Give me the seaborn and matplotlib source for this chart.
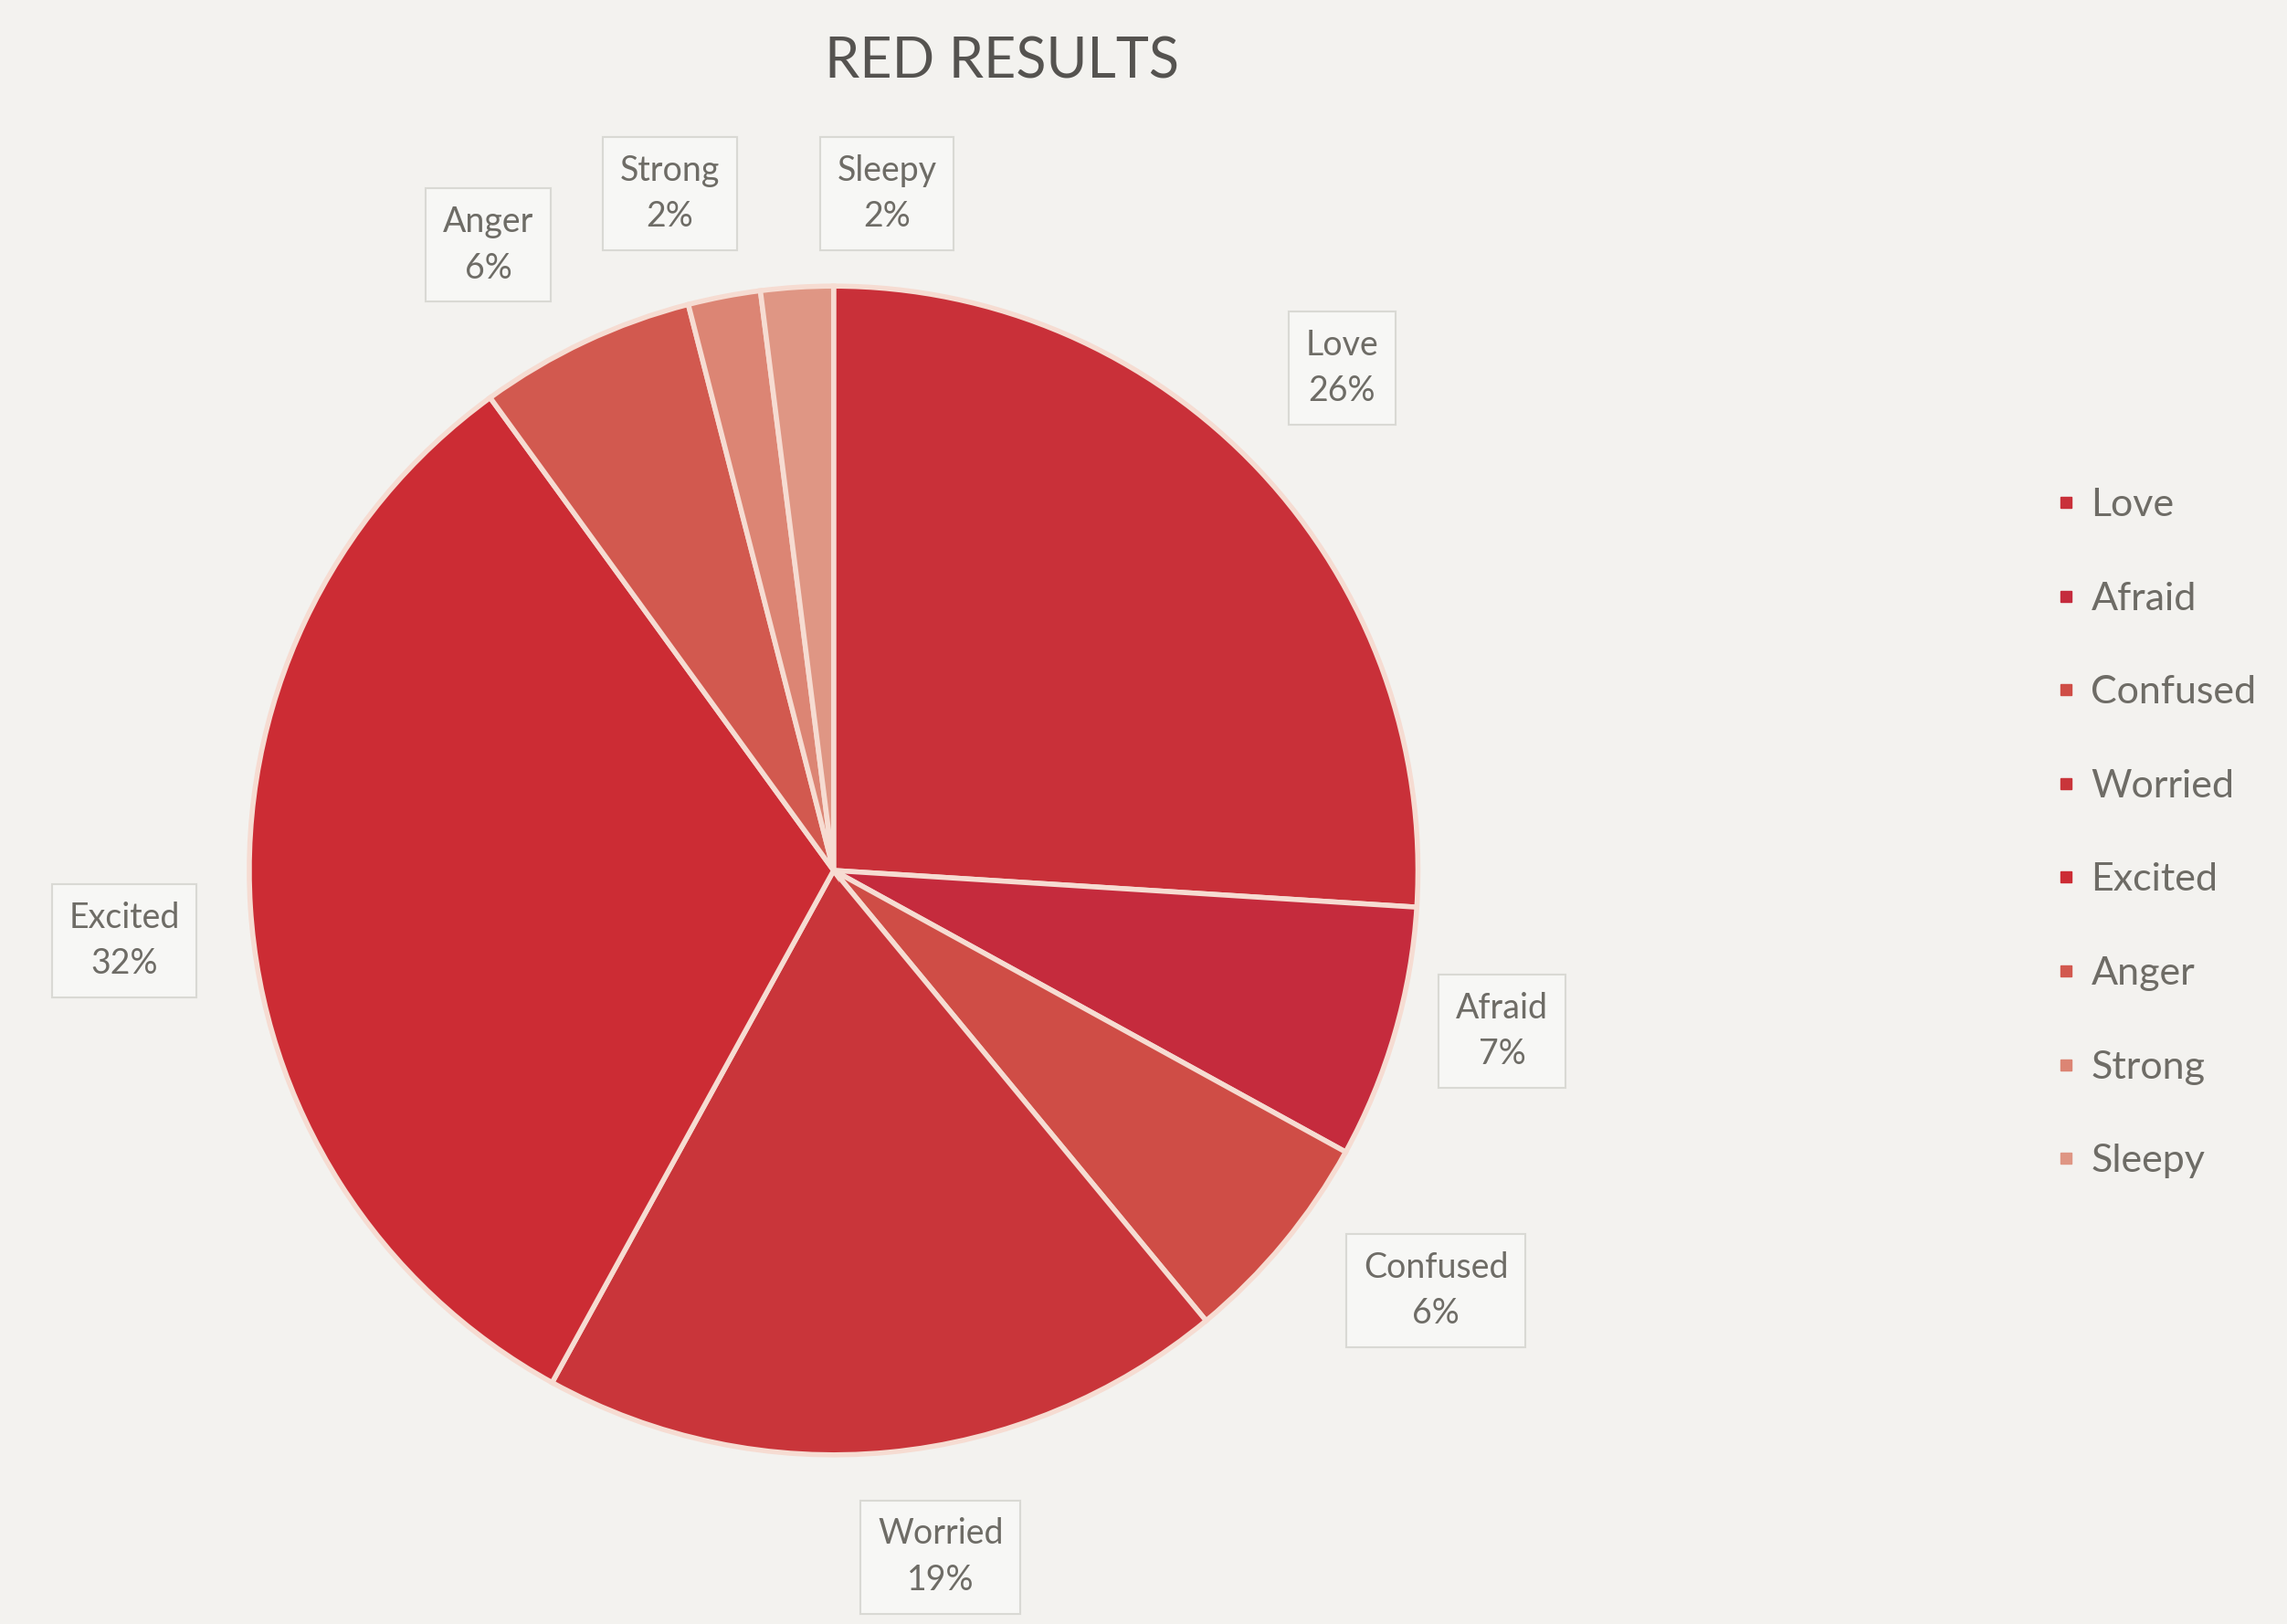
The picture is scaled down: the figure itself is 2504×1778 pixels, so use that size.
import numpy as np
import pandas as pd
import matplotlib.pyplot as plt
import seaborn as sns

# data
emotions = ["Love", "Afraid", "Confused", "Worried", "Excited", "Anger", "Strong", "Sleepy"]
shares = [26, 7, 6, 19, 32, 6, 2, 2]
slice_colors = ["#c93039", "#c52b3d", "#cf4d46", "#c9353a", "#cc2c34", "#d2594f", "#dc8574", "#df9684"]

df = pd.DataFrame({"emotion": emotions, "share": shares})

sns.set_theme(style="white")
plt.rcParams["font.family"] = ["Lato", "DejaVu Sans"]

bg = "#f3f2ef"
fig = plt.figure(figsize=(25.04, 17.78), dpi=100, facecolor=bg)
ax = fig.add_axes([0.109, 0.104, 0.511, 0.72])
ax.set_facecolor(bg)

wedges, _ = ax.pie(df["share"], colors=slice_colors, startangle=90, counterclock=False,
                   wedgeprops=dict(edgecolor="#f6dcd2", linewidth=4))
ax.set_xlim(-1, 1)
ax.set_ylim(-1, 1)
ax.set_aspect("equal")

# label box positions in pie radius units
label_pos = [(0.87, 0.86), (1.144, -0.275), (1.031, -0.719), (0.183, -1.175),
             (-1.214, -0.12), (-0.591, 1.07), (-0.28, 1.158), (0.091, 1.158)]
for (x, y), name, v in zip(label_pos, df["emotion"], df["share"]):
    ax.text(x, y, f"{name}\n{v}%", ha="center", va="center", fontsize=27,
            color="#6e6c66", linespacing=1.5, clip_on=False,
            bbox=dict(boxstyle="square,pad=0.5", facecolor="#f7f7f5", edgecolor="#d9d9d4", linewidth=1.5))

fig.text(0.438, 0.962, "RED RESULTS", ha="center", va="center", fontsize=44, color="#555350")

handles = [plt.Line2D([], [], marker="s", linestyle="", markersize=9, color=c) for c in slice_colors]
fig.legend(handles, emotions, loc="center left", bbox_to_anchor=(0.898, 0.487), frameon=False,
           fontsize=31, labelspacing=1.5, handlelength=0.6, handletextpad=0.35,
           borderaxespad=0, borderpad=0, labelcolor="#6e6c66")

fig.savefig("out.png", dpi=100, facecolor=bg)
